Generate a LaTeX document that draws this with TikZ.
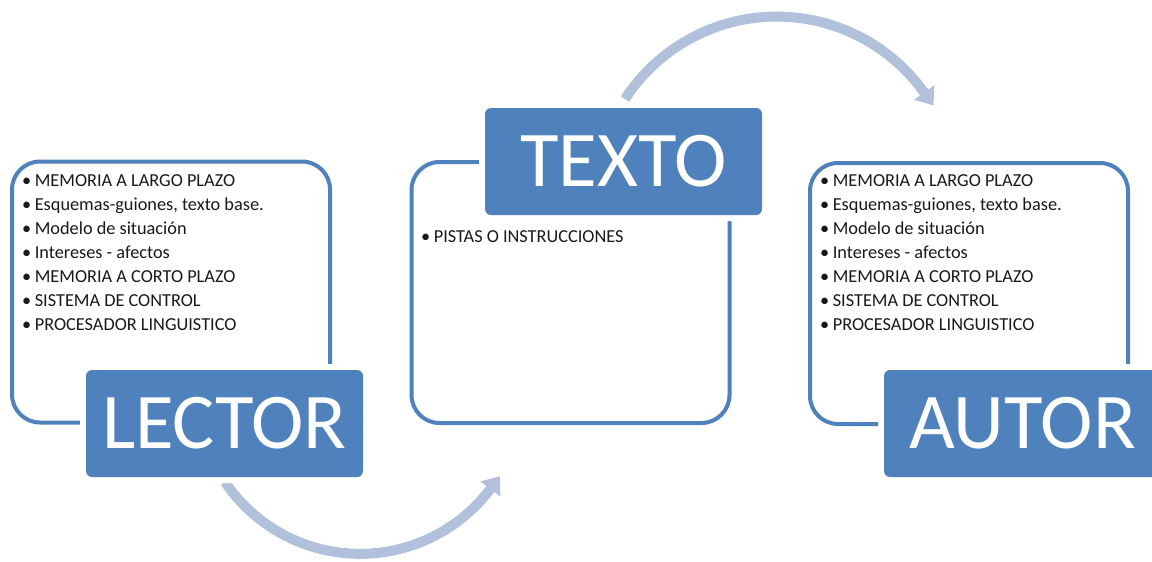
\documentclass[tikz,border=0pt]{standalone}
\usepackage{fontspec}
\setmainfont{Carlito}
\usetikzlibrary{arrows.meta}
\definecolor{accent}{HTML}{4F81BD}
\definecolor{arrowc}{HTML}{B1C0DB}
\begin{document}
\begin{tikzpicture}[x=1pt,y=-1pt,
  frame/.style={draw=accent, line width=4pt, rounded corners=28pt, inner sep=0pt, fill=white,
    minimum width=318pt, minimum height=261pt},
  titlebox/.style={fill=accent, text=white, rounded corners=6pt, inner sep=0pt,
    minimum width=277pt, minimum height=107pt,
    font=\fontsize{79}{79}\selectfont, preaction={draw=white, line width=12pt}},
  item/.style={anchor=base west, inner sep=0pt, font=\fontsize{18.3}{21}\selectfont, text=black!90},
  cyclearrow/.style={draw=arrowc, line width=10pt, -{Triangle[width=24pt,length=16pt]}}
]
\useasboundingbox (0,0) rectangle (1152,562);

% cycle arrows
\coordinate (a1) at (225,482);
\coordinate (a2) at (625,99);
\draw[cyclearrow] (a1) arc[start angle=146, end angle=37, radius=163] -- ++(9.6,-12.8);
\draw[cyclearrow] (a2) arc[start angle=213, end angle=324.5, radius=181] -- ++(9.3,13);

% frames
\node[frame] (fl) at (171,292) {};
\node[frame] (ft) at (570.5,292.5) {};
\node[frame] (fr) at (969,293.5) {};

% title boxes
\node[titlebox] (lector) at (224.5,423.5) {LECTOR};
\node[titlebox] (texto) at (623.5,161.5) {TEXTO};
\node[titlebox] (autor) at (1022.5,423.5) {AUTOR};

% lists
\foreach \t [count=\i] in {MEMORIA A LARGO PLAZO, {Esquemas-guiones, texto base.}, Modelo de situación,
  Intereses - afectos, MEMORIA A CORTO PLAZO, SISTEMA DE CONTROL, PROCESADOR LINGUISTICO} {
  \node[item] (l\i) at (22,186+24*\i-24) {•\hspace{3.5pt}\t};
  \node[item] (r\i) at (820,186+24*\i-24) {•\hspace{3.5pt}\t};
}
\node[item] (t1) at (421,242) {•\hspace{3.5pt}PISTAS O INSTRUCCIONES};
\end{tikzpicture}
\end{document}
